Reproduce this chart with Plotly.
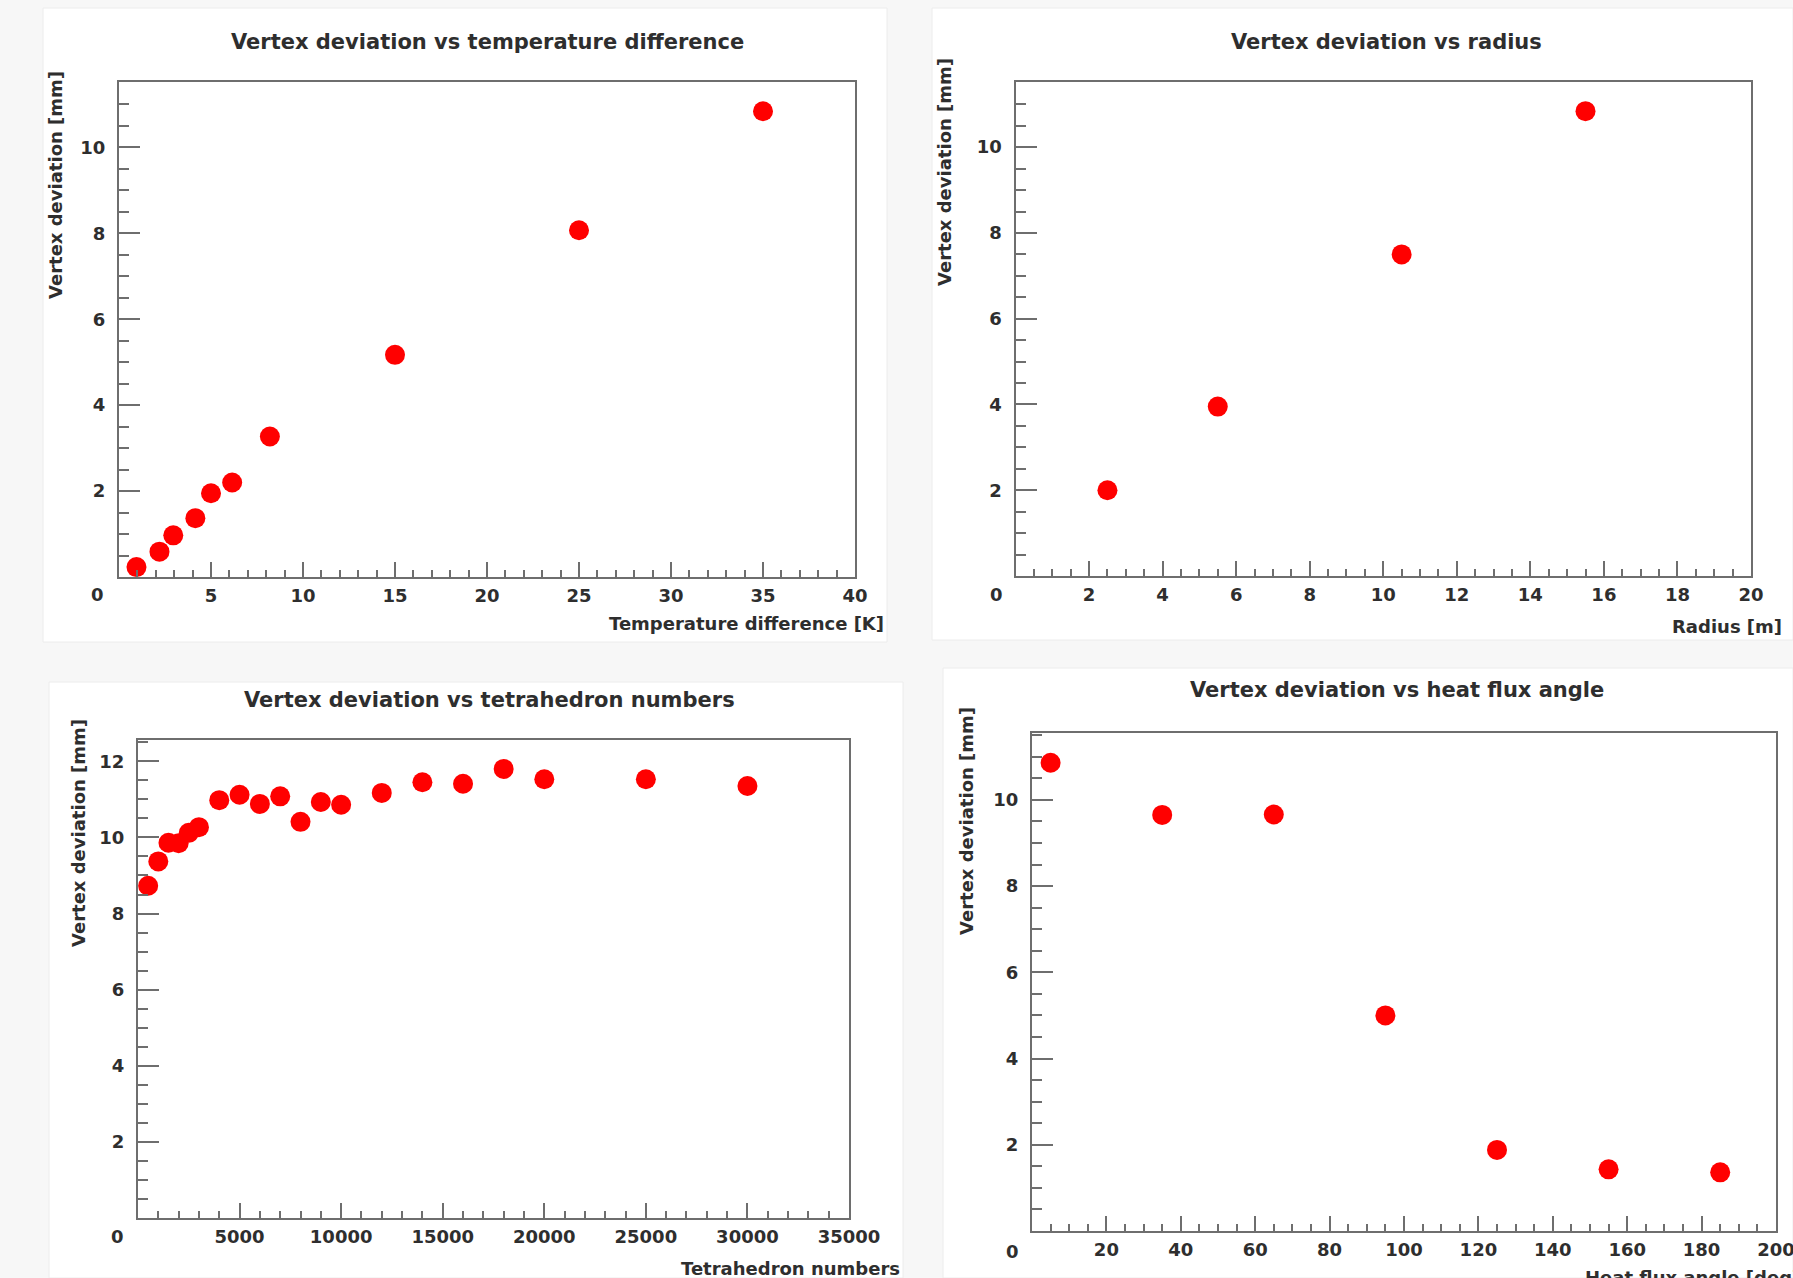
import plotly.graph_objects as go

W, H = 1793, 1278

# ---------------- data ----------------
temp_diff = [0.95, 2.2, 2.95, 4.15, 5.0, 6.15, 8.2, 15, 25, 35]
dev_temp = [0.23, 0.59, 0.97, 1.37, 1.95, 2.2, 3.27, 5.17, 8.07, 10.84]

radius = [2.5, 5.5, 10.5, 15.5]
dev_radius = [2.0, 3.95, 7.5, 10.84]

tetra = [500, 1000, 1500, 2000, 2500, 3000, 4000, 5000, 6000, 7000,
         8000, 9000, 10000, 12000, 14000, 16000, 18000, 20000, 25000, 30000]
dev_tetra = [8.73, 9.37, 9.86, 9.85, 10.12, 10.27, 10.98, 11.12, 10.88, 11.08,
             10.41, 10.93, 10.86, 11.17, 11.45, 11.41, 11.8, 11.53, 11.53, 11.35]

angle = [5, 35, 65, 95, 125, 155, 185]
dev_angle = [10.86, 9.65, 9.66, 5.0, 1.88, 1.43, 1.36]

titles = ["Vertex deviation vs temperature difference",
          "Vertex deviation vs radius",
          "Vertex deviation vs tetrahedron numbers",
          "Vertex deviation vs heat flux angle"]
x_titles = ["Temperature difference [K]", "Radius [m]",
            "Tetrahedron numbers", "Heat flux angle [deg]"]
y_title = "Vertex deviation [mm]"

# ---------------- style ----------------
FONT = "DejaVu Sans"
TXT = "#2e2e2e"
LINE = "#6e6e6e"
RED = "#ff0000"


def px_x(v):
    return v / W


def px_y(v):
    return 1 - v / H


# frames (pixels): left, right, top, bottom
frames = [
    (119, 855, 82, 577),
    (1015.5, 1751, 82, 576),
    (138, 849, 740, 1218),
    (1032, 1776, 733, 1231),
]
x_ranges = [[0, 40], [0, 20], [0, 35000], [0, 200]]
x_dticks = [5, 2, 5000, 20]
x_minor = [1, 0.5, 1000, 5]
y_ranges = [[0, 11.52], [0, 11.52], [0, 12.56], [0, 11.55]]
y_dticks = [2, 2, 2, 2]
y_minor = [0.5, 0.5, 0.5, 0.5]

fig = go.Figure()

series = [(temp_diff, dev_temp), (radius, dev_radius), (tetra, dev_tetra), (angle, dev_angle)]
for i, (xs, ys) in enumerate(series):
    suf = "" if i == 0 else str(i + 1)
    fig.add_trace(go.Scatter(
        x=xs, y=ys, mode="markers", xaxis="x" + suf, yaxis="y" + suf,
        marker=dict(size=20, color=RED, line=dict(width=0)),
        cliponaxis=False, showlegend=False, hoverinfo="x+y"))

layout = dict(
    width=W, height=H,
    margin=dict(l=0, r=0, t=0, b=0, pad=0, autoexpand=False),
    paper_bgcolor="#f7f7f7",
    plot_bgcolor="white",
    showlegend=False,
)

tickfont = dict(family=FONT, size=18, color=TXT, weight="bold")
for i, (l, r, t, b) in enumerate(frames):
    suf = "" if i == 0 else str(i + 1)
    layout["xaxis" + suf] = dict(
        domain=[px_x(l), px_x(r)], range=x_ranges[i], anchor="y" + suf,
        tickmode="linear", tick0=0, dtick=x_dticks[i], automargin=False,
        ticks="inside", ticklen=15, tickwidth=2, tickcolor=LINE,
        showline=True, linecolor=LINE, linewidth=2, mirror=True,
        showgrid=False, zeroline=False, tickfont=tickfont, tickformat="d",
        labelalias={0: " "}, ticklabelstandoff=1, ticklabeloverflow="allow",
        minor=dict(tick0=0, dtick=x_minor[i], ticks="inside", ticklen=7,
                   tickwidth=2, tickcolor=LINE, showgrid=False),
    )
    layout["yaxis" + suf] = dict(
        domain=[px_y(b), px_y(t)], range=y_ranges[i], anchor="x" + suf,
        tickmode="linear", tick0=0, dtick=y_dticks[i], automargin=False,
        ticks="inside", ticklen=21, tickwidth=2, tickcolor=LINE,
        showline=True, linecolor=LINE, linewidth=2, mirror=True,
        showgrid=False, zeroline=False, tickfont=tickfont, tickformat="d",
        labelalias={0: " "}, ticklabelstandoff=8, ticklabeloverflow="allow",
        minor=dict(tick0=0, dtick=y_minor[i], ticks="inside", ticklen=10,
                   tickwidth=2, tickcolor=LINE, showgrid=False),
    )

# panel backgrounds (pasted image look)
panels = [(43, 887, 8, 642), (932, 1793, 8, 640), (49, 903, 682, 1278), (943, 1793, 668, 1278)]
shapes = []
for (l, r, t, b) in panels:
    shapes.append(dict(type="rect", xref="paper", yref="paper",
                       x0=px_x(l), x1=px_x(r), y0=px_y(b), y1=px_y(t),
                       fillcolor="white", line=dict(color="#ececec", width=1), layer="below"))
layout["shapes"] = shapes

ann = []
title_pos = [(487, 42), (1386, 42), (490, 700), (1397, 690)]
for (x, y), txt in zip(title_pos, titles):
    ann.append(dict(text=txt, x=px_x(x), y=px_y(y), xref="paper", yref="paper",
                    xanchor="center", yanchor="middle", showarrow=False,
                    font=dict(family=FONT, size=21, color=TXT, weight="bold")))

xt_pos = [(886, 624, "right"), (1784, 626, "right"), (902, 1268, "right"), (1583, 1277, "left")]
for (x, y, anc), txt in zip(xt_pos, x_titles):
    ann.append(dict(text=txt, x=px_x(x), y=px_y(y), xref="paper", yref="paper",
                    xanchor=anc, yanchor="middle", showarrow=False,
                    font=dict(family=FONT, size=18, color=TXT, weight="bold")))

yt_pos = [(55, 69), (945, 56), (78, 717), (966, 705)]
for (x, y) in yt_pos:
    ann.append(dict(text=y_title, x=px_x(x), y=px_y(y), xref="paper", yref="paper",
                    xanchor="center", yanchor="top", textangle=-90, showarrow=False,
                    font=dict(family=FONT, size=18, color=TXT, weight="bold")))

zero_pos = [(97, 595), (996, 595), (117, 1236), (1013, 1251)]
for (x, y) in zero_pos:
    ann.append(dict(text="0", x=px_x(x), y=px_y(y), xref="paper", yref="paper",
                    xanchor="center", yanchor="middle", showarrow=False,
                    font=dict(family=FONT, size=18, color=TXT, weight="bold")))
layout["annotations"] = ann

fig.update_layout(**layout)
fig.write_html(
    "out.html",
    config={"displayModeBar": False},
    post_script="document.body.style.margin='0';document.body.style.overflow='hidden';",
)
